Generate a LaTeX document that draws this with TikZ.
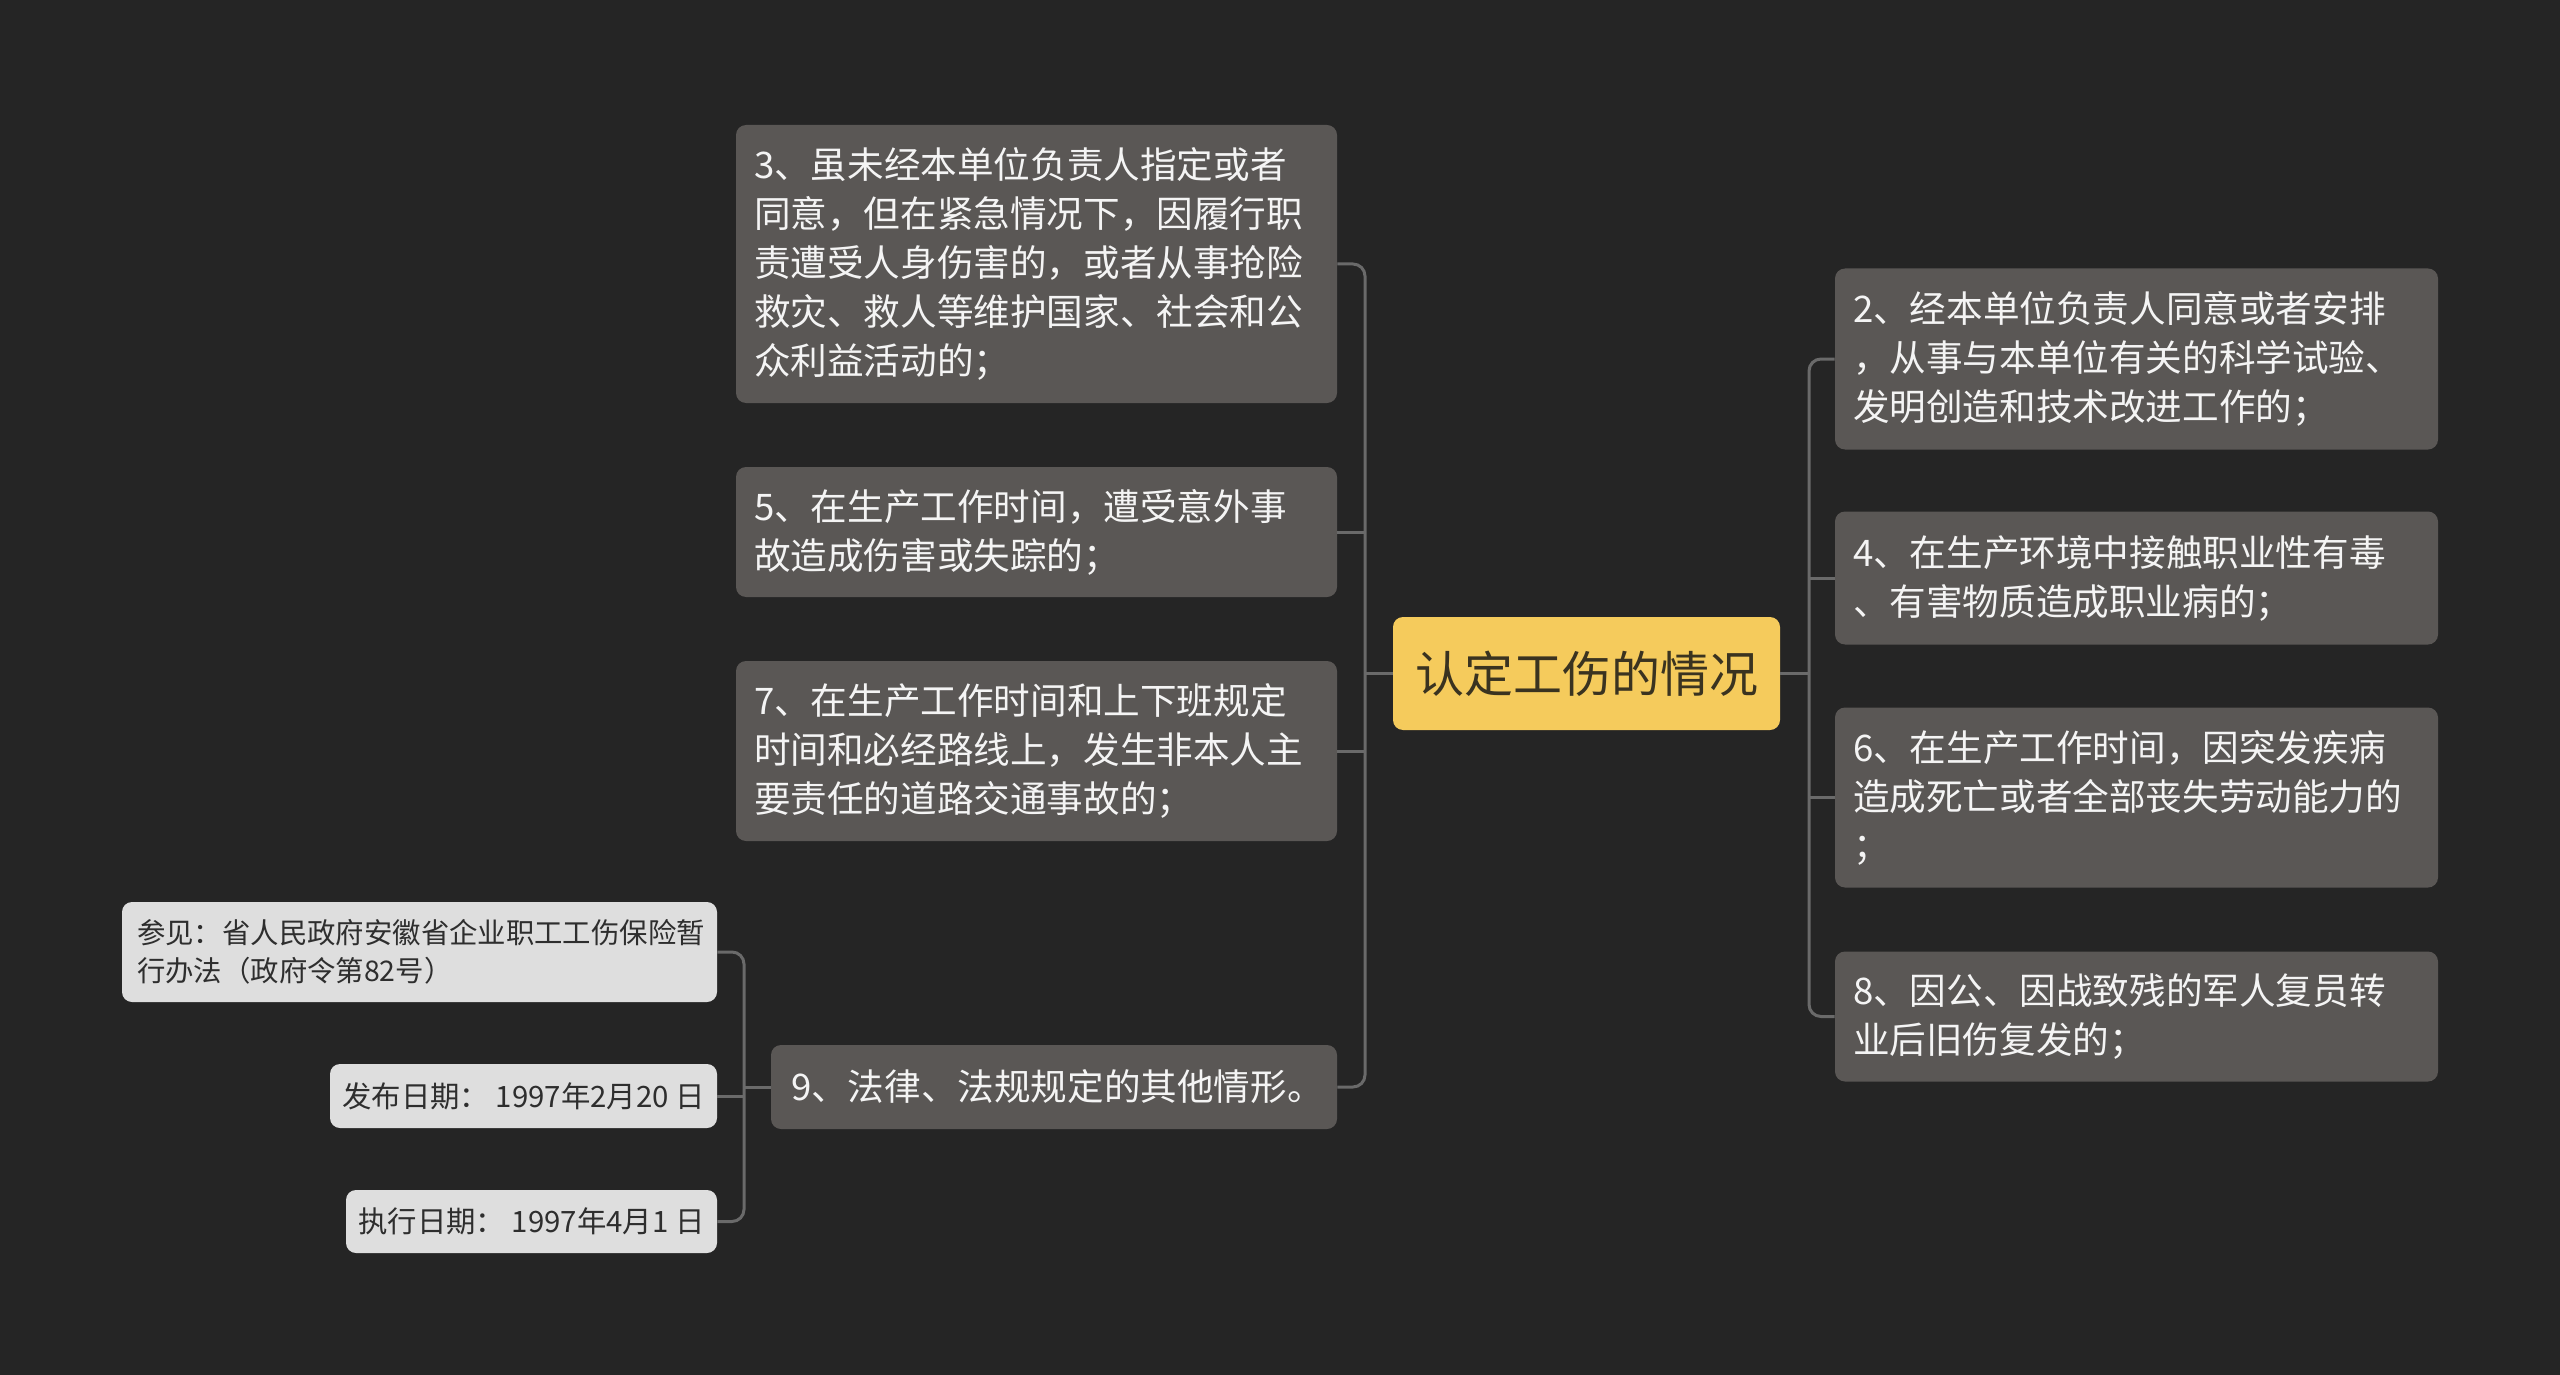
\documentclass[tikz,border=0pt]{standalone}
\usepackage{fontspec}
\setmainfont{Noto Sans CJK SC}
\definecolor{bgcol}{HTML}{252525}
\definecolor{nodegray}{HTML}{5A5755}
\definecolor{nodetext}{HTML}{F4F4F4}
\definecolor{lightfill}{HTML}{DEDEDE}
\definecolor{darktext}{HTML}{2E2E2E}
\definecolor{rootfill}{HTML}{F5CB5C}
\definecolor{roottext}{HTML}{3A3320}
\definecolor{linecol}{HTML}{6A6A6A}
\begin{document}
\begin{tikzpicture}[x=0.5pt,y=-0.5pt,
  gbox/.style={rectangle, rounded corners=5pt, fill=nodegray, text=nodetext,
    font=\fontsize{18.3}{24.5}\selectfont, align=left, inner xsep=9pt, inner ysep=0pt},
  lbox/.style={rectangle, rounded corners=5pt, fill=lightfill, text=darktext,
    font=\fontsize{14.2}{18.8}\selectfont, align=left, inner xsep=7.5pt, inner ysep=0pt},
  dbox/.style={lbox, font=\fontsize{14.7}{18.8}\selectfont, inner xsep=5pt},
  rootbox/.style={rectangle, rounded corners=5pt, fill=rootfill, text=roottext,
    font=\fontsize{24.5}{30}\selectfont, inner sep=0pt},
  conn/.style={draw=linecol, line width=1.5pt},
  rc/.style={rounded corners=6pt}]
\fill[bgcol] (0,0) rectangle (2560,1375);
\useasboundingbox (0,0) rectangle (2560,1375);

% root
\node[rootbox, minimum width=193.5pt, minimum height=56.5pt] (c) at (1586.5,673.5) {认定工伤的情况};

% left nodes
\node[gbox, text width=282.5pt, minimum height=139pt] (n3) at (1036.5,264)
  {3、虽未经本单位负责人指定或者\\同意，但在紧急情况下，因履行职\\责遭受人身伤害的，或者从事抢险\\救灾、救人等维护国家、社会和公\\众利益活动的；};
\node[gbox, text width=282.5pt, minimum height=65pt] (n5) at (1036.5,532)
  {5、在生产工作时间，遭受意外事\\故造成伤害或失踪的；};
\node[gbox, text width=282.5pt, minimum height=90pt] (n7) at (1036.5,751)
  {7、在生产工作时间和上下班规定\\时间和必经路线上，发生非本人主\\要责任的道路交通事故的；};
\node[gbox, inner xsep=10pt, text width=263pt, minimum height=42pt] (n9) at (1054,1087)
  {9、法律、法规规定的其他情形。};

% sub nodes
\node[lbox, text width=282.5pt, minimum height=50pt] (ref) at (419.5,952)
  {参见：省人民政府安徽省企业职工工伤保险暂\\行办法（政府令第82号）};
\node[dbox, minimum width=193.5pt, minimum height=32pt] (pub) at (523.5,1096)
  {发布日期：\ 1997年2月20 日};
\node[dbox, minimum width=185.5pt, minimum height=31.5pt] (exec) at (531.5,1221.5)
  {执行日期：\ 1997年4月1 日};

% right nodes
\node[gbox, text width=283.5pt, minimum height=90.5pt] (n2) at (2136.5,359)
  {2、经本单位负责人同意或者安排\\，从事与本单位有关的科学试验、\\发明创造和技术改进工作的；};
\node[gbox, text width=283.5pt, minimum height=66.5pt] (n4) at (2136.5,578)
  {4、在生产环境中接触职业性有毒\\、有害物质造成职业病的；};
\node[gbox, text width=283.5pt, minimum height=90pt] (n6) at (2136.5,797.5)
  {6、在生产工作时间，因突发疾病\\造成死亡或者全部丧失劳动能力的\\；};
\node[gbox, text width=283.5pt, minimum height=65pt] (n8) at (2136.5,1016.5)
  {8、因公、因战致残的军人复员转\\业后旧伤复发的；};

% spines
\coordinate (sL) at (1365,0);
\coordinate (sR) at (1809,0);
\coordinate (sS) at (744,0);

\draw[conn, rc] (n3.east) -- (n3.east -| sL) -- (n9.east -| sL) -- (n9.east);
\draw[conn] (c.west) -- (c.west -| sL);
\draw[conn] (n5.east) -- (n5.east -| sL);
\draw[conn] (n7.east) -- (n7.east -| sL);

\draw[conn, rc] (n2.west) -- (n2.west -| sR) -- (n8.west -| sR) -- (n8.west);
\draw[conn] (c.east) -- (c.east -| sR);
\draw[conn] (n4.west) -- (n4.west -| sR);
\draw[conn] (n6.west) -- (n6.west -| sR);

\draw[conn, rc] (ref.east) -- (ref.east -| sS) -- (exec.east -| sS) -- (exec.east);
\draw[conn] (n9.west) -- (n9.west -| sS);
\draw[conn] (pub.east) -- (pub.east -| sS);
\end{tikzpicture}
\end{document}
